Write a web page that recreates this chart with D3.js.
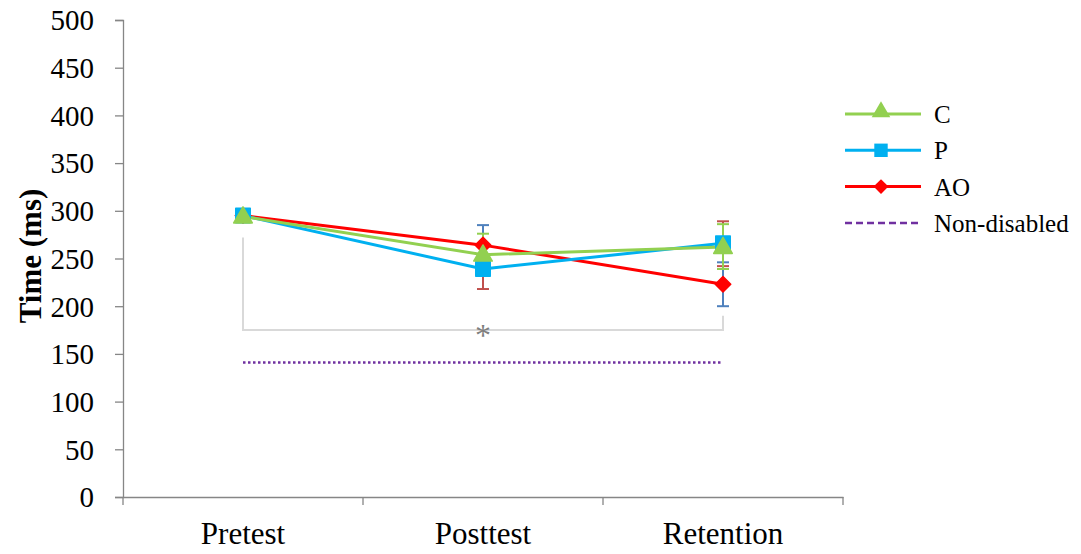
<!DOCTYPE html>
<html><head><meta charset="utf-8">
<script src="https://cdn.jsdelivr.net/npm/d3@7"></script>
<style>body{margin:0;background:#fff;} svg{display:block;font-family:"Liberation Serif","Times New Roman",serif;}</style>
</head><body><svg id="c" width="1081" height="554"></svg>
<script>
const categories = ["Pretest", "Posttest", "Retention"];
const yTicks = [0, 50, 100, 150, 200, 250, 300, 350, 400, 450, 500];
const seriesNames = ["C", "P", "AO"];
const valuesC = [294, 254, 262];
const valuesP = [295, 239, 266];
const valuesAO = [295, 264, 223];
// error bar extents [low, high] per time point (null = not shown)
const errC = [null, [232, 276], [239, 286]];
const errP = [null, [239, 285], [200, 246]];
const errAO = [null, [218, 264], [242, 289]];
const nonDisabled = 141;
const sigBracket = [{from: "Pretest", to: "Retention", low: 175, leftTop: 272, rightTop: 190, label: "*"}];

const svg = d3.select("#c");
const L = 123, R = 843, T = 20, B = 497;
const x = d3.scaleBand().domain(categories).range([L, R]).padding(0);
const y = d3.scaleLinear().domain([0, 500]).range([B, T]);
const cx = c => x(c) + x.bandwidth() / 2;
const axisCol = "#868686";

// y axis
const ya = svg.append("g").attr("transform", `translate(${L},0)`)
  .call(d3.axisLeft(y).tickValues(yTicks).tickSize(8).tickPadding(21));
ya.select(".domain").attr("stroke", axisCol).attr("stroke-width", 1.3);
ya.selectAll(".tick line").attr("stroke", axisCol).attr("stroke-width", 1.3);
ya.selectAll(".tick text").attr("font-size", 29).attr("fill", "#000").attr("font-family", "Liberation Serif")
  .attr("dy", "0.34em");

// x axis
const xa = svg.append("g").attr("transform", `translate(0,${B})`)
  .call(d3.axisBottom(x).tickSize(0).tickPadding(25));
xa.select(".domain").attr("stroke", axisCol).attr("stroke-width", 1.3);
xa.selectAll(".tick text").attr("font-size", 31).attr("fill", "#000").attr("font-family", "Liberation Serif");
const boundaries = [L, ...categories.slice(1).map(c => x(c)), R];
svg.append("g").selectAll("line").data(boundaries).join("line")
  .attr("x1", d => d).attr("x2", d => d).attr("y1", B).attr("y2", B + 8)
  .attr("stroke", axisCol).attr("stroke-width", 1.3);

// y label
svg.append("text").attr("transform", `translate(41,256) rotate(-90)`)
  .attr("text-anchor", "middle").attr("font-size", 31).attr("font-weight", "bold").text("Time (ms)");

// significance bracket
sigBracket.forEach(s => {
  const x1 = cx(s.from), x2 = cx(s.to);
  svg.append("path")
    .attr("d", `M${x1},${y(s.leftTop)}V${y(s.low)}H${x2}V${y(s.rightTop)}`)
    .attr("fill", "none").attr("stroke", "#d9d9d9").attr("stroke-width", 2);
  svg.append("text").attr("x", (x1 + x2) / 2).attr("y", y(s.low) + 16)
    .attr("text-anchor", "middle").attr("font-size", 32).attr("fill", "#7f7f7f").text(s.label);
});

// non-disabled line
svg.append("line").attr("x1", cx(categories[0])).attr("x2", cx(categories[2]))
  .attr("y1", y(nonDisabled)).attr("y2", y(nonDisabled))
  .attr("stroke", "#7030a0").attr("stroke-width", 2.5).attr("stroke-dasharray", "2.5,2.5");

const series = [
  {name: "C", vals: valuesC, err: errC, color: "#92d050", errColor: "#92d050", marker: d3.symbolTriangle, size: 150, rot: 0, dy: 1},
  {name: "P", vals: valuesP, err: errP, color: "#00b0f0", errColor: "#4f81bd", marker: d3.symbolSquare, size: 210, rot: 0, dy: 0},
  {name: "AO", vals: valuesAO, err: errAO, color: "#ff0000", errColor: "#c0504d", marker: d3.symbolSquare, size: 120, rot: 45, dy: 0}
];
const drawOrder = [series[2], series[1], series[0]];

// error bars
drawOrder.forEach(s => {
  s.err.forEach((e, i) => {
    if (!e) return;
    const g = svg.append("g").attr("stroke", s.errColor).attr("stroke-width", 2);
    const X = cx(categories[i]);
    g.append("line").attr("x1", X).attr("x2", X).attr("y1", y(e[0])).attr("y2", y(e[1]));
    e.forEach(v => g.append("line").attr("x1", X - 6).attr("x2", X + 6).attr("y1", y(v)).attr("y2", y(v)));
  });
});

// lines and markers
const line = d3.line().x((d, i) => cx(categories[i])).y(d => y(d));
drawOrder.forEach(s => {
  svg.append("path").datum(s.vals).attr("d", line).attr("fill", "none")
    .attr("stroke", s.color).attr("stroke-width", 3);
});
drawOrder.forEach(s => {
  svg.append("g").selectAll("path").data(s.vals).join("path")
    .attr("transform", (d, i) => `translate(${cx(categories[i])},${y(d) + s.dy}) rotate(${s.rot})`)
    .attr("d", d3.symbol().type(s.marker).size(s.size)).attr("fill", s.color)
    .attr("stroke", s.color).attr("stroke-width", 1.5).attr("stroke-linejoin", "round");
});

// legend
const legendItems = [
  {name: "C", color: "#92d050", marker: d3.symbolTriangle, size: 150, rot: 0},
  {name: "P", color: "#00b0f0", marker: d3.symbolSquare, size: 180, rot: 0},
  {name: "AO", color: "#ff0000", marker: d3.symbolSquare, size: 110, rot: 45},
  {name: "Non-disabled", color: "#7030a0", dashed: true}
];
const lg = svg.append("g").attr("transform", "translate(845,114)");
legendItems.forEach((it, i) => {
  const gy = i * 36.3;
  const g = lg.append("g").attr("transform", `translate(0,${gy})`);
  g.append("line").attr("x1", 0).attr("x2", 76).attr("y1", 0).attr("y2", 0)
    .attr("stroke", it.color).attr("stroke-width", it.dashed ? 2.5 : 3)
    .attr("stroke-dasharray", it.dashed ? "7,4" : null);
  if (it.marker) g.append("path").attr("transform", `translate(36,${it.name === "C" ? -2 : 0}) rotate(${it.rot})`)
    .attr("d", d3.symbol().type(it.marker).size(it.size)).attr("fill", it.color);
  g.append("text").attr("x", 89).attr("y", 9).attr("font-size", 25).text(it.name);
});
</script></body></html>
